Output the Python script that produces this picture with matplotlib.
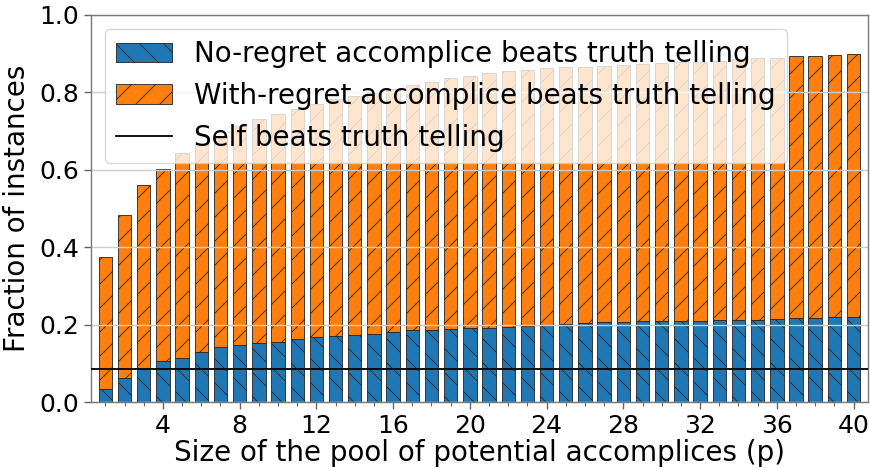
import matplotlib
matplotlib.use("Agg")
import matplotlib.pyplot as plt
import numpy as np
from matplotlib.patches import Patch
from matplotlib.lines import Line2D

POOL_SIZE = list(range(1, 41))
NO_REGRET = [0.033, 0.063, 0.085, 0.105, 0.114, 0.130, 0.142, 0.147, 0.152, 0.156,
             0.162, 0.167, 0.170, 0.173, 0.176, 0.180, 0.186, 0.187, 0.188, 0.190,
             0.192, 0.195, 0.196, 0.199, 0.202, 0.205, 0.207, 0.208, 0.209, 0.209,
             0.210, 0.210, 0.211, 0.211, 0.212, 0.214, 0.217, 0.218, 0.219, 0.219]
WITH_REGRET = [0.375, 0.484, 0.561, 0.603, 0.643, 0.668, 0.688, 0.712, 0.730, 0.743,
               0.756, 0.769, 0.782, 0.791, 0.798, 0.810, 0.819, 0.826, 0.836, 0.843,
               0.849, 0.855, 0.858, 0.863, 0.865, 0.866, 0.869, 0.871, 0.874, 0.876,
               0.878, 0.879, 0.882, 0.886, 0.888, 0.889, 0.893, 0.893, 0.896, 0.899]
SELF_BEATS = 0.086

LABELS = ["No-regret accomplice beats truth telling",
          "With-regret accomplice beats truth telling",
          "Self beats truth telling"]

# rendered at 72 dpi so the single-density hatches get the coarse spacing
DPI = 72
K = 100 / DPI

plt.rcParams["font.family"] = "DejaVu Sans"
plt.rcParams["hatch.linewidth"] = 0.8

fig = plt.figure(figsize=(870 / DPI, 468 / DPI), dpi=DPI)
ax = fig.add_axes([0.1046, 0.141, 0.893, 0.827])

x = np.array(POOL_SIZE)
nr = np.array(NO_REGRET)
wr = np.array(WITH_REGRET)

ax.bar(x, nr, width=0.7, color="#1f77b4", edgecolor="#222222", linewidth=0.6 * K,
       hatch="\\", zorder=1)
ax.bar(x, wr - nr, bottom=nr, width=0.7, color="#ff7f0e", edgecolor="#222222",
       linewidth=0.6 * K, hatch="/", zorder=1)
ax.axhline(SELF_BEATS, color="black", linewidth=1.3 * K, zorder=3)

ax.set_xlim(0.25, 40.75)
ax.set_ylim(0, 1.0)
ax.set_xticks([4, 8, 12, 16, 20, 24, 28, 32, 36, 40])
ax.set_xticks(x, minor=True)
ax.set_yticks([0.0, 0.2, 0.4, 0.6, 0.8, 1.0])
ax.tick_params(axis="both", which="major", labelsize=18 * K, length=5 * K,
               width=1.0 * K, pad=3.5 * K, color="#666666")
ax.tick_params(axis="x", which="minor", length=3 * K, width=0.8 * K, color="#666666")
ax.grid(axis="y", color="#cccccc", linewidth=1.0 * K, zorder=1.5)

ax.set_xlabel("Size of the pool of potential accomplices (p)", fontsize=20 * K,
              labelpad=1 * K)
ax.set_ylabel("Fraction of instances", fontsize=20 * K, labelpad=6 * K)

for s in ax.spines.values():
    s.set_color("#777777")
    s.set_linewidth(1.0 * K)

handles = [
    Patch(facecolor="#1f77b4", edgecolor="#222222", hatch="\\", linewidth=0.6 * K),
    Patch(facecolor="#ff7f0e", edgecolor="#222222", hatch="/", linewidth=0.6 * K),
    Line2D([], [], color="black", linewidth=1.3 * K),
]
leg = ax.legend(handles, LABELS, loc="upper left", fontsize=20 * K, framealpha=0.8)
leg.get_frame().set_linewidth(1.0 * K)

fig.savefig("out.png", dpi=DPI)
